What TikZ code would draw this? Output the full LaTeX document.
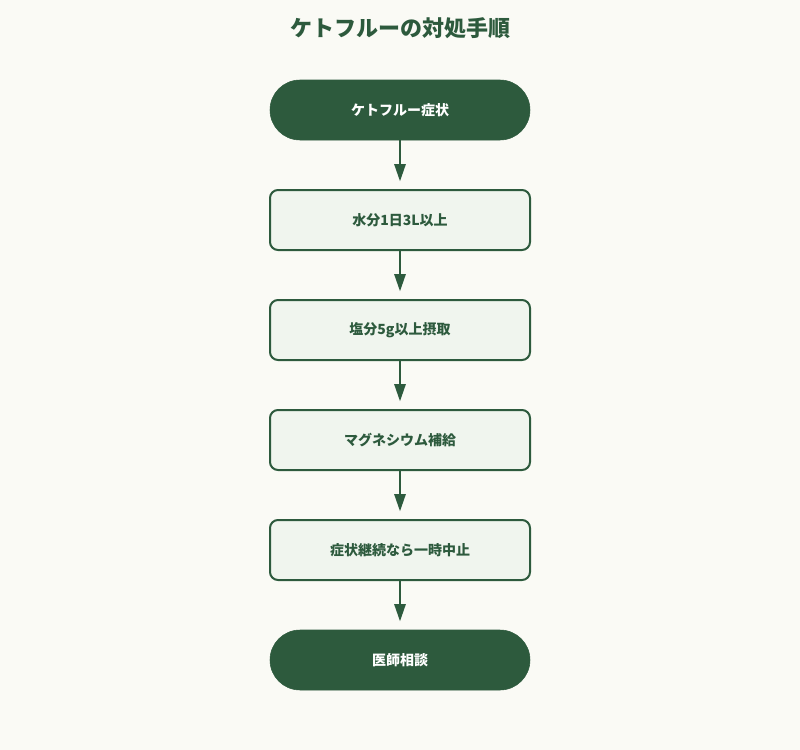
\documentclass[tikz,border=0pt]{standalone}
\usepackage{fontspec}
\setmainfont{Noto Sans CJK JP}
\usepackage{tikz}
\usetikzlibrary{positioning,arrows.meta}

\definecolor{deepgreen}{HTML}{2D5A3D}
\definecolor{palegreen}{HTML}{F0F5EE}
\definecolor{paper}{HTML}{FAFAF5}

\tikzset{
  term/.style={draw=deepgreen,fill=deepgreen,text=white,rounded corners=22.5pt,outer sep=0pt,
    minimum width=195pt,minimum height=45pt,font=\bfseries\fontsize{10.5}{12}\selectfont},
  stepbox/.style={draw=deepgreen,line width=1.5pt,fill=palegreen,text=deepgreen,rounded corners=6pt,
    outer sep=0pt,minimum width=195pt,minimum height=45pt,font=\bfseries\fontsize{10.5}{12}\selectfont},
}

\begin{document}
\begin{tikzpicture}[node distance=37.5pt]
  \fill[paper] (0,0) rectangle (600pt,-562.5pt);
  \useasboundingbox (0,0) rectangle (600pt,-562.5pt);
  \node (title) [text=deepgreen,font=\bfseries\fontsize{16.5}{20}\selectfont] at (300pt,-21pt) {ケトフルーの対処手順};
  \node (start) [term] at (300pt,-82.5pt) {ケトフルー症状};
  \node (water) [stepbox,below=of start] {水分1日3L以上};
  \node (salt) [stepbox,below=of water] {塩分5g以上摂取};
  \node (mag) [stepbox,below=of salt] {マグネシウム補給};
  \node (stop) [stepbox,below=of mag] {症状継続なら一時中止};
  \node (doctor) [term,below=of stop] {医師相談};

  \path[color=deepgreen,line width=1.5pt,-{Triangle[length=13pt,width=8.5pt]},shorten >=6.5pt]
    (start) edge (water)
    (water) edge (salt)
    (salt) edge (mag)
    (mag) edge (stop)
    (stop) edge (doctor);
\end{tikzpicture}
\end{document}
